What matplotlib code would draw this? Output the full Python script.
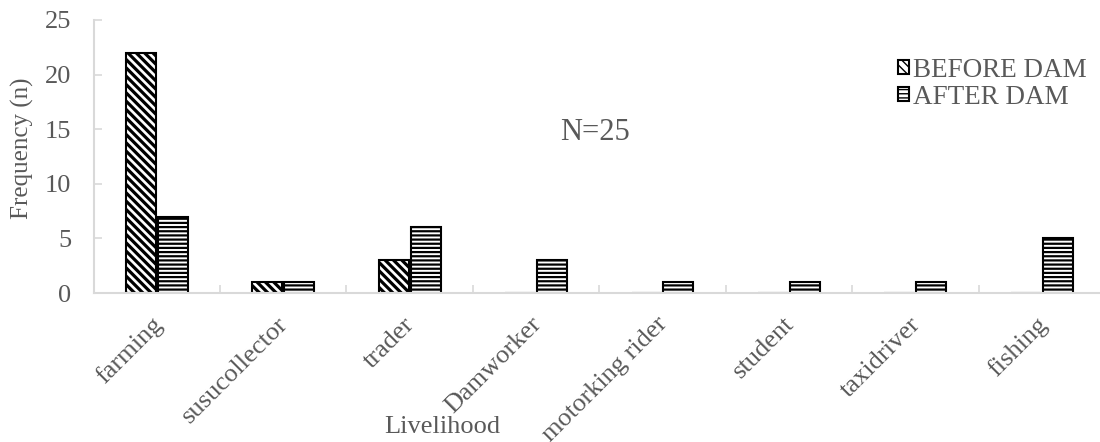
import matplotlib
matplotlib.use("Agg")
import matplotlib.pyplot as plt
import numpy as np
from matplotlib.patches import Patch
from matplotlib.transforms import ScaledTranslation

categories = ["farming", "susucollector", "trader", "Damworker",
              "motorking rider", "student", "taxidriver", "fishing"]
before_dam = [22, 1, 3, 0, 0, 0, 0, 0]
after_dam = [7, 1, 6, 3, 1, 1, 1, 5]
yticks = [0, 5, 10, 15, 20, 25]

plt.rcParams['font.family'] = ['Liberation Serif', 'DejaVu Serif']
gray = '#595959'
axis_gray = '#d9d9d9'
diag_hatch = '\\\\\\\\'
horiz_hatch = '----'
diag_lw = 2.3
horiz_lw = 1.6


def set_hlw(patches, lw):
    for p in patches:
        if hasattr(p, 'set_hatch_linewidth'):
            p.set_hatch_linewidth(lw)


fig = plt.figure(figsize=(11, 4.42), dpi=100)
ax = fig.add_axes([93.5/1100, 1 - 293/442, (1105 - 93.5)/1100, (293 - 20)/442])

x = np.arange(len(categories))
w = 0.237
off = 0.126
with plt.rc_context({'hatch.linewidth': diag_lw}):
    b1 = ax.bar(x - off, before_dam, width=w, facecolor='white', edgecolor='black',
                hatch=diag_hatch, linewidth=1.5, label='BEFORE DAM')
set_hlw(b1, diag_lw)
with plt.rc_context({'hatch.linewidth': horiz_lw}):
    b2 = ax.bar(x + off, after_dam, width=w, facecolor='white', edgecolor='black',
                hatch=horiz_hatch, linewidth=1.5, label='AFTER DAM')
set_hlw(b2, horiz_lw)

ax.set_xlim(-0.5, len(categories) - 0.5)
ax.set_ylim(0, 25)
ax.set_yticks(yticks)
ax.set_yticklabels([str(v) for v in yticks], fontsize=19, color=gray)
ax.set_xticks(np.arange(len(categories) + 1) - 0.5)
ax.set_xticklabels([])
ax.tick_params(axis='x', direction='in', length=6, color=axis_gray, width=1.2)
ax.tick_params(axis='y', direction='in', length=6, color=axis_gray,
               width=1.2, pad=16)
for s in ['top', 'right']:
    ax.spines[s].set_visible(False)
for s in ['left', 'bottom']:
    ax.spines[s].set_color(axis_gray)
    ax.spines[s].set_linewidth(1.5)

# category labels, rotated 45 degrees
lab_tr = ax.get_xaxis_transform() + ScaledTranslation(-6/100, -20/100, fig.dpi_scale_trans)
for xi, name in zip(x, categories):
    ax.text(xi, 0, name, transform=lab_tr, rotation=45, ha='right', va='top',
            rotation_mode='anchor', fontsize=19, color=gray, clip_on=False)

fig.text(22/1100, 1 - 148/442, 'Frequency (n)', rotation=90, ha='center',
         va='center', fontsize=18, color=gray)
fig.text(442/1100, 1 - 427/442, 'Livelihood', ha='center', va='center',
         fontsize=19, color=gray)
fig.text(595/1100, 1 - 133/442, 'N=25', ha='center', va='center',
         fontsize=22, color=gray)

with plt.rc_context({'hatch.linewidth': diag_lw}):
    h1 = Patch(facecolor='white', edgecolor='black', hatch=diag_hatch, linewidth=1.5)
with plt.rc_context({'hatch.linewidth': horiz_lw}):
    h2 = Patch(facecolor='white', edgecolor='black', hatch=horiz_hatch, linewidth=1.5)
leg = fig.legend([h1, h2], ['BEFORE DAM', 'AFTER DAM'], loc='center left',
                 bbox_to_anchor=(898/1100, 1 - 84/442), frameon=False,
                 fontsize=19.5, handlelength=0.42, handleheight=0.42,
                 handletextpad=0.15, labelspacing=0.08, labelcolor=gray,
                 borderpad=0, borderaxespad=0)

fig.savefig('out.png', dpi=100)
